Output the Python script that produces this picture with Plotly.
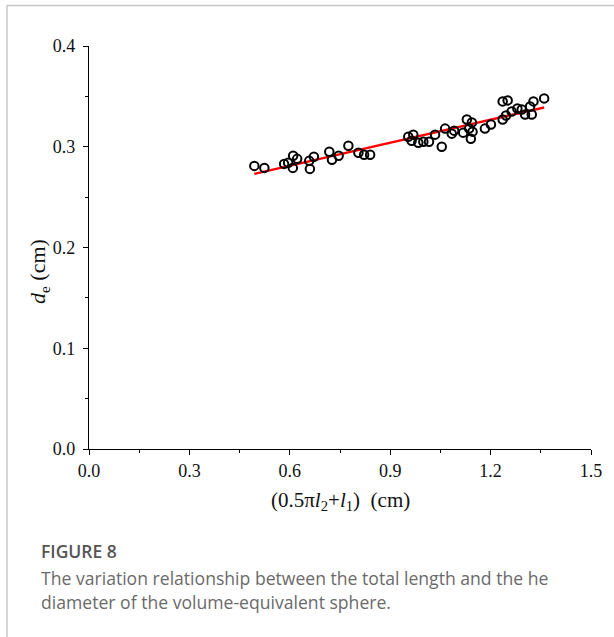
import plotly.graph_objects as go

# Data
x_vals = [0.494, 0.524, 0.583, 0.595, 0.610, 0.609, 0.622, 0.660, 0.658, 0.672,
          0.718, 0.726, 0.746, 0.775, 0.805, 0.822, 0.840, 0.954, 0.969, 0.964,
          0.984, 0.999, 1.016, 1.034, 1.054, 1.064, 1.084, 1.091, 1.118, 1.129,
          1.144, 1.136, 1.146, 1.141, 1.183, 1.201, 1.236, 1.251, 1.236, 1.246,
          1.263, 1.280, 1.293, 1.303, 1.318, 1.328, 1.323, 1.360]
y_vals = [0.281, 0.279, 0.283, 0.284, 0.291, 0.279, 0.288, 0.278, 0.286, 0.290,
          0.295, 0.287, 0.291, 0.301, 0.294, 0.292, 0.292, 0.310, 0.312, 0.306,
          0.304, 0.305, 0.305, 0.312, 0.300, 0.318, 0.313, 0.316, 0.314, 0.327,
          0.324, 0.318, 0.315, 0.308, 0.318, 0.322, 0.345, 0.346, 0.327, 0.331,
          0.335, 0.338, 0.337, 0.332, 0.340, 0.345, 0.332, 0.348]
fit_x = [0.494, 1.360]
fit_y = [0.273, 0.339]

x_ticks = [0.0, 0.3, 0.6, 0.9, 1.2, 1.5]
y_ticks = [0.0, 0.1, 0.2, 0.3, 0.4]
x_tick_text = ["0.0", "0.3", "0.6", "0.9", "1.2", "1.5"]
y_tick_text = ["0.0", "0.1", "0.2", "0.3", "0.4"]

W, H = 614, 637
ML, MR, MT, MB = 89, 23, 46, 188
PW, PH = W - ML - MR, H - MT - MB

def px(xp):
    return (xp - ML) / PW

def py(yp):
    return (H - MB - yp) / PH

fig = go.Figure()
fig.add_trace(go.Scatter(x=fit_x, y=fit_y, mode="lines",
                         line=dict(color="#ff0000", width=2.4), showlegend=False))
fig.add_trace(go.Scatter(x=x_vals, y=y_vals, mode="markers",
                         marker=dict(symbol="circle-open", size=8.5, color="black",
                                     line=dict(width=2, color="black")),
                         showlegend=False))

serif = "Liberation Serif"
tfont = dict(family=serif, size=18, color="#111111")
axis_common = dict(showgrid=False, zeroline=False, showline=True, linecolor="black",
                   linewidth=1.3, ticks="outside", ticklen=5, tickwidth=1.3,
                   tickcolor="black", tickfont=tfont, mirror=False)

fig.update_layout(
    width=W, height=H,
    margin=dict(l=ML, r=MR, t=MT, b=MB),
    paper_bgcolor="white", plot_bgcolor="white",
    font=dict(family=serif, size=18, color="#111111"),
    xaxis=dict(range=[0, 1.5], tickmode="array", tickvals=x_ticks, ticktext=x_tick_text,
               minor=dict(ticks="outside", ticklen=3, tickwidth=1.3, tickcolor="black",
                          tickmode="linear", tick0=0, dtick=0.15),
               **axis_common),
    yaxis=dict(range=[0, 0.4], tickmode="array", tickvals=y_ticks, ticktext=y_tick_text,
               ticklabelstandoff=4,
               minor=dict(ticks="outside", ticklen=3, tickwidth=1.3, tickcolor="black",
                          tickmode="linear", tick0=0, dtick=0.05),
               **axis_common),
)

sans = "Open Sans"
annotations = [
    dict(text="<i>d</i><sub>e</sub>&nbsp;(cm)", x=px(39), y=py(272), xref="paper", yref="paper",
         xanchor="center", yanchor="middle",
         textangle=-90, showarrow=False, font=dict(family=serif, size=22, color="#111111")),
    dict(text="(0.5π<i>l</i><sub>2</sub>+<i>l</i><sub>1</sub>)&nbsp;&nbsp;(cm)", x=px(340), y=py(501),
         xref="paper", yref="paper", xanchor="center", yanchor="middle",
         showarrow=False, font=dict(family=serif, size=21, color="#111111")),
    dict(text="FIGURE 8", x=px(39), y=py(551), xref="paper", yref="paper", xanchor="left",
         yanchor="middle", showarrow=False,
         font=dict(family=sans, size=17.5, color="#555555", weight=600)),
    dict(text="The variation relationship between the total length and the he", x=px(39), y=py(578),
         xref="paper", yref="paper", xanchor="left", yanchor="middle", showarrow=False,
         font=dict(family=sans, size=17.6, color="#6a6a6a")),
    dict(text="diameter of the volume-equivalent sphere.", x=px(39), y=py(602),
         xref="paper", yref="paper", xanchor="left", yanchor="middle", showarrow=False,
         font=dict(family=sans, size=17.6, color="#6a6a6a")),
]
fig.update_layout(annotations=annotations)

shapes = [
    dict(type="line", xref="paper", yref="paper", x0=px(7), x1=px(614), y0=py(5.5), y1=py(5.5),
         line=dict(color="#c8c8c8", width=1.5)),
    dict(type="line", xref="paper", yref="paper", x0=px(7), x1=px(7), y0=py(5), y1=py(637),
         line=dict(color="#c8c8c8", width=1.5)),
]
fig.update_layout(shapes=shapes)

fig.write_html("out.html")
